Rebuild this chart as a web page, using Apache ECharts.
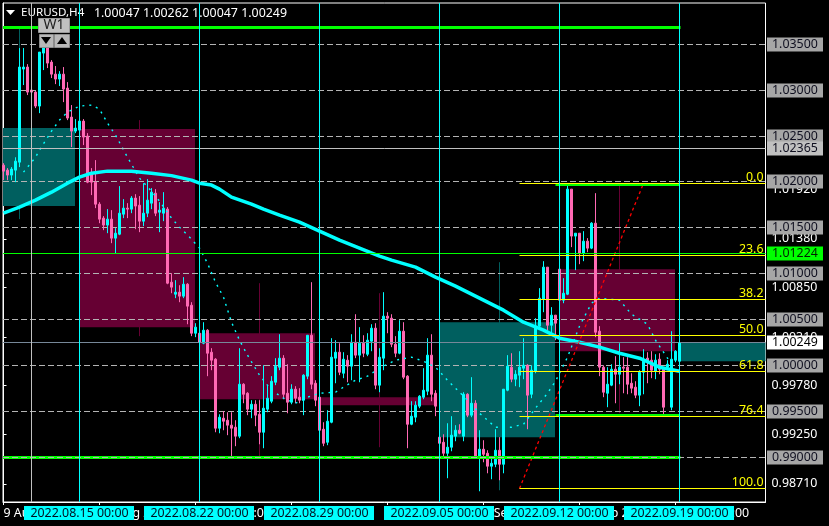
<!DOCTYPE html>
<html><head><meta charset="utf-8">
<style>html,body{margin:0;padding:0;background:#000;overflow:hidden}#c{width:829px;height:526px}</style>
<script src="https://cdn.jsdelivr.net/npm/echarts@6/dist/echarts.min.js"></script>
</head><body><div id="c"></div>
<script>
const titleSymbol = 'EURUSD,H4';
const titlePrices = '1.00047 1.00262 1.00047 1.00249';
const opens = [1.02183,1.02129,1.02075,1.02129,1.02216,1.03230,1.03252,1.03001,1.02979,1.02827,1.03404,1.03470,1.03306,1.03175,1.03121,1.03175,1.03023,1.02707,1.02554,1.02565,1.02663,1.02500,1.02096,1.01998,1.01758,1.01606,1.01530,1.01595,1.01388,1.01431,1.01649,1.01715,1.01704,1.01824,1.01747,1.01573,1.01660,1.01769,1.01878,1.01671,1.01660,1.01704,1.00908,1.00777,1.00799,1.00756,1.00886,1.00657,1.00352,1.00352,1.00243,1.00385,1.00145,1.00069,0.99317,0.99426,0.99404,0.99350,0.99328,0.99230,0.99796,0.99698,0.99524,0.99578,0.99469,0.99273,0.99524,0.99611,0.99818,0.99982,1.00080,0.99698,0.99600,0.99742,0.99655,0.99622,0.99884,1.00330,0.99807,0.99655,0.99306,0.99164,0.99382,1.00080,1.00145,0.99916,1.00058,0.99993,1.00254,1.00113,1.00243,1.00123,1.00265,1.00407,0.99786,1.00080,1.00538,1.00516,1.00232,1.00134,1.00374,0.99884,0.99360,0.99437,0.99557,0.99655,0.99720,1.00113,0.99698,0.99219,0.99164,0.99044,0.99110,0.99230,0.99295,0.99230,0.99687,0.99459,0.99589,0.99001,0.99088,0.99044,0.98903,0.98924,0.99077,0.98924,0.99731,0.99982,0.99851,0.99895,0.99971,1.00003,0.99687,0.99938,1.00429,1.00723,1.01072,1.00439,1.00549,1.01050,1.00712,1.00777,1.01922,1.01410,1.01442,1.01224,1.01355,1.01279,1.01551,1.00374,0.99982,0.99698,0.99786,0.99960,0.99905,0.99982,0.99982,0.99807,0.99764,0.99677,0.99927,1.00080,1.00058,0.99938,1.00069,0.99960,0.99982,0.99546,1.00058,1.00047];
const closes = [1.02118,1.02075,1.02140,1.02227,1.03252,1.03252,1.02979,1.02979,1.02827,1.03415,1.03470,1.03295,1.03175,1.03121,1.03175,1.03012,1.02696,1.02554,1.02587,1.02663,1.02489,1.01998,1.01998,1.01758,1.01595,1.01530,1.01595,1.01388,1.01442,1.01660,1.01715,1.01704,1.01824,1.01737,1.01573,1.01660,1.01802,1.01889,1.01660,1.01693,1.01715,1.00897,1.00854,1.00799,1.00756,1.00886,1.00647,1.00352,1.00418,1.00254,1.00385,1.00134,1.00058,0.99317,0.99437,0.99393,0.99350,0.99317,0.99230,0.99796,0.99687,0.99524,0.99578,0.99459,0.99273,0.99535,0.99644,0.99829,0.99993,1.00080,0.99687,0.99600,0.99742,0.99644,0.99622,0.99895,1.00330,0.99796,0.99622,0.99295,0.99153,0.99393,1.00091,1.00145,0.99927,1.00069,0.99993,1.00254,1.00113,1.00243,1.00134,1.00276,1.00407,0.99786,1.00091,1.00538,1.00516,1.00232,1.00134,1.00374,0.99873,0.99360,0.99448,0.99568,0.99666,0.99731,1.00113,0.99687,0.99557,0.99153,0.99044,0.99110,0.99241,0.99295,0.99262,0.99687,0.99459,0.99589,0.99011,0.99088,0.99033,0.98903,0.98935,0.99077,0.98924,0.99742,0.99993,0.99851,0.99905,0.99982,1.00003,0.99677,0.99949,1.00429,1.00734,1.01072,1.00439,1.00549,1.00461,1.00712,1.00788,1.01922,1.01410,1.01442,1.01224,1.01355,1.01279,1.01551,1.00363,0.99982,0.99709,0.99796,0.99960,0.99905,0.99982,0.99971,0.99796,0.99753,0.99677,0.99927,1.00058,1.00036,0.99949,1.00058,0.99960,0.99546,1.00014,1.00069,1.00156,1.00249];
const lows = [1.02020,1.02020,1.02020,1.01998,1.02162,1.03056,1.02947,1.02957,1.02805,1.02750,1.03219,1.03241,1.03132,1.03066,1.03045,1.02870,1.02674,1.02380,1.02532,1.02489,1.02402,1.01987,1.01857,1.01715,1.01551,1.01475,1.01442,1.01333,1.01224,1.01420,1.01606,1.01606,1.01660,1.01486,1.01453,1.01519,1.01617,1.01704,1.01628,1.01453,1.01573,1.00886,1.00788,1.00734,1.00690,1.00734,1.00450,1.00320,1.00309,1.00232,1.00232,0.99884,0.99949,0.99273,0.99262,0.99295,0.99241,0.99011,0.99121,0.99208,0.99589,0.99459,0.99426,0.99339,0.99142,0.99099,0.99491,0.99589,0.99786,0.99949,0.99633,0.99480,0.99578,0.99589,0.99589,0.99459,0.99851,0.99742,0.99557,0.99208,0.99121,0.99132,0.99371,0.99807,0.99895,0.99862,0.99818,0.99840,1.00080,0.99818,1.00091,1.00102,1.00156,0.99742,0.99709,0.99949,1.00352,1.00200,1.00091,1.00123,0.99851,0.99099,0.99350,0.99382,0.99535,0.99633,0.99677,0.99611,0.99448,0.99110,0.99011,0.98772,0.99066,0.99175,0.99251,0.99175,0.99437,0.99437,0.99001,0.98630,0.98946,0.98826,0.98761,0.98892,0.98750,0.98826,0.99720,0.99818,0.99775,0.99764,0.99851,0.99306,0.99644,0.99916,1.00407,1.00581,1.00385,1.00341,1.00276,1.00690,1.00679,1.00767,1.01290,1.01039,1.01104,1.01137,1.01235,1.01268,1.00309,0.99884,0.99655,0.99546,0.99775,0.99589,0.99796,0.99698,0.99687,0.99698,0.99644,0.99557,0.99687,0.99807,0.99862,0.99851,0.99905,0.99469,0.99949,0.99513,1.00036,1.00047];
const highs = [1.02205,1.02151,1.02162,1.02269,1.03459,1.03459,1.03284,1.03045,1.02990,1.03415,1.03546,1.03524,1.03328,1.03263,1.03208,1.03252,1.03088,1.02838,1.02685,1.02696,1.02685,1.02532,1.02151,1.02238,1.01780,1.01628,1.01704,1.01693,1.01497,1.01955,1.01813,1.01769,1.01846,1.01867,1.01846,1.01987,1.02031,1.01933,1.01922,1.01780,1.01889,1.01726,1.01006,1.00930,1.00875,1.00963,1.00897,1.00690,1.00461,1.00374,1.00472,1.00396,1.00189,1.00080,0.99469,0.99502,0.99491,0.99491,0.99404,1.00189,0.99807,0.99709,0.99622,0.99622,0.99622,1.00003,0.99786,0.99884,1.00080,1.00341,1.00113,1.00014,0.99796,0.99775,0.99753,0.99905,1.00330,1.00908,0.99840,0.99677,0.99382,0.99513,1.00298,1.00276,1.00243,1.00145,1.00113,1.00341,1.00559,1.00418,1.00330,1.00352,1.00450,1.00461,1.00189,1.00799,1.00581,1.00559,1.00320,1.00494,1.00472,0.99895,0.99611,0.99611,0.99677,0.99971,1.00298,1.00341,0.99731,0.99241,0.99251,0.99371,0.99448,0.99350,0.99360,0.99709,0.99698,0.99873,0.99622,0.99295,0.99186,0.99077,0.99001,0.99306,0.99219,0.99742,1.00113,1.00134,0.99949,1.00156,1.00298,1.00014,1.00003,1.00516,1.00843,1.01137,1.01072,1.00636,1.00549,1.01061,1.00952,1.01966,1.01922,1.01442,1.01442,1.01464,1.01388,1.01562,1.01878,1.00429,1.00003,0.99982,1.00014,1.00102,1.00243,1.00091,1.00091,0.99916,0.99829,0.99949,1.00178,1.00145,1.00156,1.00123,1.00134,0.99971,1.00058,1.00374,1.00167,1.00262];

const slowIdx = [0,4,8,12,16,19,22,26,32,37,42,47,49,52,54,57,62,65,69,74,79,84,89,94,97,103,108,113,120,125,130,135,139,144,149,154,159,164,169];
const slowVal = [1.01660,1.01726,1.01802,1.01889,1.01987,1.02053,1.02096,1.02118,1.02118,1.02096,1.02069,1.02020,1.01987,1.01966,1.01922,1.01835,1.01758,1.01704,1.01639,1.01562,1.01464,1.01366,1.01279,1.01192,1.01148,1.01072,1.00963,1.00865,1.00712,1.00603,1.00472,1.00385,1.00298,1.00254,1.00200,1.00134,1.00080,0.99982,0.99938];
const fastIdx = [5,8,9,12,14,16,19,22,24,26,28,31,34,37,39,42,44,47,49,51,53,55,57,59,61,64,67,70,73,76,79,83,85,88,91,94,98,102,105,108,111,115,119,123,127,130,133,136,138,141,144,147,149,154,157,161,163,166,167];
const fastVal = [1.02107,1.02269,1.02347,1.02554,1.02674,1.02761,1.02827,1.02838,1.02794,1.02641,1.02511,1.02269,1.02042,1.01900,1.01791,1.01606,1.01508,1.01377,1.01279,1.01115,1.00908,1.00745,1.00472,1.00276,1.00113,0.99895,0.99731,0.99644,0.99589,0.99655,0.99698,0.99709,0.99764,0.99840,0.99884,0.99971,1.00058,1.00091,1.00047,0.99982,0.99840,0.99666,0.99480,0.99328,0.99328,0.99360,0.99535,0.99698,0.99829,1.00091,1.00429,1.00679,1.00734,1.00712,1.00559,1.00450,1.00276,1.00080,1.00014];

const weekStart = [-11,19,49,79,109,139,169];
const weekOpen  = [1.01737,1.02576,1.00352,0.99655,0.99219,1.01050,1.00047];
const weekClose = [1.02587,1.00418,0.99633,0.99568,1.00472,1.00156,1.00249];
const weekHigh  = [1.03666,1.02674,1.00897,1.00788,1.01126,1.01966,1.00249];
const weekLow   = [1.01595,1.00320,0.99011,0.99110,0.98641,0.99480,1.00047];

const roundLevels = [1.035,1.03,1.025,1.02,1.015,1.01,1.005,1.0,0.995,0.99];
const resistLevel = [1.03682];
const supportLevel = [0.99];
const grayLevel = [1.02365];
const greenLevel = [1.01224];
const lastPrice = [1.00249];
const rangeHigh = [1.01976];
const rangeLow = [0.99459];
const fibLevels = [1.01984,1.01200,1.00714,1.00322,0.99930,0.99444,0.98660];
const fibLabels = ['0.0','23.6','38.2','50.0','61.8','76.4','100.0'];
const fibStart = 129, objectEnd = 169, rangeStart = 138;
const trendIdx = [129,160];
const trendVal = [0.98660,1.01984];
const weekLineIdx = [19,49,79,109,139,169];
const weekLineDate = ['2022.08.15 00:00','2022.08.22 00:00','2022.08.29 00:00','2022.09.05 00:00','2022.09.12 00:00','2022.09.19 00:00'];
const crossIdx = [7];
const timeTickIdx = [0,24,48,72,96,120,144,168];
const timeTickText = ['9 Aug 20:00','15 Aug 20:00','19 Aug 20:00','25 Aug 20:00','31 Aug 20:00','6 Sep 20:00','12 Sep 20:00','16 Sep 20:00'];
const priceTicks = [1.01920,1.01380,1.00850,1.00310,0.99780,0.99250,0.98710];
const tagLevels = [1.035,1.03,1.025,1.02,1.015,1.01,1.005,1.0,0.995,0.99];

const FONT = '"Noto Sans","DejaVu Sans",sans-serif';
const FS = '12.4px ';
const CYAN='#00ffff',PINK='#ff69b4',GREEN='#00ff00',YEL='#ffff00',TEAL='#005f5f',MAROON='#660033',DASH='#b4b4b4';
const XMIN=-0.125,XMAX=190.5;

function hLines(name, levels, from, to, style, z){
  return {type:'custom',name,z,silent:true,clip:true,animation:false,
    encode:{x:0,y:1},data:levels.map(v=>[from,v,to]),
    renderItem(p,api){
      const a=api.coord([api.value(0),api.value(1)]),b=api.coord([api.value(2),api.value(1)]);
      const y=Math.floor(a[1])+.5;
      return {type:'line',shape:{x1:a[0],y1:y,x2:b[0],y2:y},style:Object.assign({fill:null},style)};
    }};
}
function priceTag(name, levels, bg, fg, z){
  return {type:'custom',name,z,silent:true,clip:false,animation:false,
    encode:{y:1,x:0},data:levels.map(v=>[XMAX,v]),
    renderItem(p,api){
      const v=api.value(1),c=api.coord([XMAX,v]),y=Math.floor(c[1])+.5;
      return {type:'group',children:[
        {type:'rect',shape:{x:767,y:y-7,width:56,height:14},style:{fill:bg}},
        {type:'text',x:772,y:y,style:{text:v.toFixed(5),fill:fg,font:FS+FONT,align:'left',verticalAlign:'middle'}}
      ]};
    }};
}

const series = [
  {type:'custom',name:'W1 candles',z:1,silent:true,clip:true,animation:false,
    encode:{x:0,y:[1,2,3,4]},
    data:weekStart.map((s,i)=>[s,weekOpen[i],weekClose[i],weekLow[i],weekHigh[i]]),
    renderItem(p,api){
      const s=api.value(0),o=api.value(1),c=api.value(2),l=api.value(3),h=api.value(4);
      const col=c>=o?TEAL:MAROON;
      const x0=api.coord([s,o])[0]-.5,x1=api.coord([s+29,o])[0]-.5,xm=api.coord([s+15,o])[0];
      const yo=api.coord([s,o])[1],yc=api.coord([s,c])[1];
      const clip=p.coordSys;
      const left=Math.max(x0,clip.x),right=Math.min(x1,clip.x+clip.width);
      return {type:'group',children:[
        {type:'line',shape:{x1:xm,y1:api.coord([s,h])[1],x2:xm,y2:api.coord([s,l])[1]},style:{stroke:col,lineWidth:1}},
        {type:'rect',shape:{x:left,y:Math.min(yo,yc),width:right-left,height:Math.abs(yo-yc)},style:{fill:col}}
      ]};
    }},
  hLines('round levels',roundLevels,XMIN,XMAX,{stroke:DASH,lineWidth:1,lineDash:[6,3]},2),
  {type:'candlestick',name:'EURUSD,H4',z:3,animation:false,silent:true,barWidth:2,
    encode:{x:0,y:[1,2,3,4]},
    data:opens.map((o,i)=>[i,o,closes[i],lows[i],highs[i]]),
    itemStyle:{color:CYAN,color0:PINK,borderColor:CYAN,borderColor0:PINK,borderWidth:1}},
  {type:'line',name:'slow MA',z:4,silent:true,animation:false,showSymbol:false,symbol:'none',
    data:slowIdx.map((x,i)=>[x,slowVal[i]]),lineStyle:{color:CYAN,width:3.5}},
  {type:'line',name:'fast MA',z:4,silent:true,animation:false,showSymbol:false,symbol:'none',
    data:fastIdx.map((x,i)=>[x,fastVal[i]]),lineStyle:{color:CYAN,width:1.4,type:[2,5]}},
  {type:'line',name:'fib trend',z:4,silent:true,animation:false,showSymbol:false,symbol:'none',
    data:trendIdx.map((x,i)=>[x,trendVal[i]]),lineStyle:{color:'#ff0000',width:1.3,type:[3,3]}},
  hLines('resistance',resistLevel,XMIN,objectEnd+.25,{stroke:GREEN,lineWidth:3},5),
  hLines('support',supportLevel,XMIN,objectEnd+.25,{stroke:GREEN,lineWidth:3},5),
  hLines('support dash',supportLevel,XMIN,XMAX,{stroke:DASH,lineWidth:1,lineDash:[6,3]},5),
  hLines('range high',rangeHigh,rangeStart,objectEnd,{stroke:GREEN,lineWidth:3},5),
  hLines('range low',rangeLow,rangeStart,objectEnd,{stroke:GREEN,lineWidth:3},5),
  hLines('silver level',grayLevel,XMIN,XMAX,{stroke:'#c0c0c0',lineWidth:1},5),
  hLines('green level',greenLevel,XMIN,XMAX,{stroke:GREEN,lineWidth:1},5),
  hLines('last price',lastPrice,XMIN,XMAX,{stroke:'#778899',lineWidth:1},5),
  hLines('fib levels',fibLevels,fibStart,XMAX,{stroke:YEL,lineWidth:1},6),
  {type:'custom',name:'fib labels',z:6,silent:true,clip:false,animation:false,
    encode:{x:0,y:1},data:fibLevels.map((v,i)=>[XMAX,v,i]),
    renderItem(p,api){
      const c=api.coord([XMAX,api.value(1)]);
      return {type:'text',x:c[0]-2,y:Math.floor(c[1])-6,
        style:{text:fibLabels[api.value(2)],fill:YEL,font:FS+FONT,align:'right',verticalAlign:'middle'}};
    }},
  {type:'custom',name:'week lines',z:7,silent:true,clip:true,animation:false,
    encode:{x:0},data:weekLineIdx.map(v=>[v]),
    renderItem(p,api){
      const x=api.coord([api.value(0),1])[0],g=p.coordSys;
      return {type:'line',shape:{x1:x,y1:g.y,x2:x,y2:g.y+g.height},style:{stroke:CYAN,lineWidth:1}};
    }},
  {type:'custom',name:'cross line',z:7,silent:true,clip:true,animation:false,
    encode:{x:0},data:crossIdx.map(v=>[v]),
    renderItem(p,api){
      const x=api.coord([api.value(0),1])[0],g=p.coordSys;
      return {type:'line',shape:{x1:x,y1:g.y,x2:x,y2:g.y+g.height},style:{stroke:'#c0c0c0',lineWidth:1}};
    }},
  {type:'custom',name:'date tags',z:8,silent:true,clip:false,animation:false,
    encode:{x:0},data:weekLineIdx.map((v,i)=>[v,i]),
    renderItem(p,api){
      const x=api.coord([api.value(0),1])[0],g=p.coordSys,y=g.y+g.height+4;
      return {type:'group',children:[
        {type:'rect',shape:{x:x-55.5,y:y,width:110,height:14},style:{fill:CYAN}},
        {type:'text',x:x,y:y+7,style:{text:weekLineDate[api.value(1)],fill:'#001020',font:FS+FONT,align:'center',verticalAlign:'middle'}}
      ]};
    }},
  priceTag('level tags',tagLevels,'#a6a6a6','#101020',9),
  priceTag('silver tag',grayLevel,'#c0c0c0','#101020',10),
  priceTag('green tag',greenLevel,GREEN,'#002000',10),
  priceTag('last tag',lastPrice,'#ffffff','#000000',10)
];

const chart = echarts.init(document.getElementById('c'),null,{width:829,height:526});
chart.setOption({
  animation:false,backgroundColor:'#000',
  title:{text:'{s|'+titleSymbol+'}{p|   '+titlePrices+'}',left:21,top:7,padding:0,
    textStyle:{color:'#fff',fontSize:12.4,fontWeight:'normal',fontFamily:FONT,
      rich:{s:{fontSize:11.6,color:'#fff',fontFamily:FONT},p:{fontSize:12.4,color:'#fff',fontFamily:FONT}}}},
  tooltip:{show:false},legend:{show:false},
  grid:{left:3,top:3,width:762.5,height:499,show:true,borderColor:'#fff',borderWidth:1,backgroundColor:'transparent',containLabel:false},
  xAxis:{type:'value',min:XMIN,max:XMAX,splitLine:{show:false},
    axisLine:{show:true,onZero:false,lineStyle:{color:'#fff'}},
    axisTick:{show:true,length:3,customValues:timeTickIdx,lineStyle:{color:'#fff'}},
    axisLabel:{show:true,color:'#fff',fontSize:12.4,fontFamily:FONT,margin:5,align:'left',customValues:timeTickIdx,hideOverlap:false,
      formatter:v=>timeTickText[timeTickIdx.indexOf(v)]||''}},
  yAxis:{type:'value',position:'right',min:0.98513,max:1.03950,scale:true,splitLine:{show:false},
    axisLine:{show:true,lineStyle:{color:'#fff'}},
    axisTick:{show:true,length:3,customValues:priceTicks,lineStyle:{color:'#fff'}},
    axisLabel:{show:true,color:'#fff',fontSize:12.4,fontFamily:FONT,margin:6,customValues:priceTicks,formatter:v=>v.toFixed(5)}},
  series,
  graphic:[
    {type:'polygon',shape:{points:[[6,10],[15,10],[10.5,15]]},style:{fill:'#fff'},silent:true,z:20},
    {type:'rect',shape:{x:38.5,y:18.5,width:31,height:14},style:{fill:'#c0c0c0',stroke:'#9a9a9a',lineWidth:1},silent:true,z:20},
    {type:'text',x:54,y:25.5,style:{text:'W1',fill:'#202020',font:'14px '+FONT,align:'center',verticalAlign:'middle'},silent:true,z:21},
    {type:'rect',shape:{x:39.5,y:34.5,width:14,height:13},style:{fill:'#b8b8b8',stroke:'#8c8c8c',lineWidth:1},silent:true,z:20},
    {type:'rect',shape:{x:54.5,y:34.5,width:15,height:13},style:{fill:'#b8b8b8',stroke:'#8c8c8c',lineWidth:1},silent:true,z:20},
    {type:'polygon',shape:{points:[[41,37],[51,37],[46,44]]},style:{fill:'#000'},silent:true,z:21},
    {type:'polygon',shape:{points:[[57,44],[67,44],[62,37]]},style:{fill:'#000'},silent:true,z:21}
  ]
});
</script></body></html>
